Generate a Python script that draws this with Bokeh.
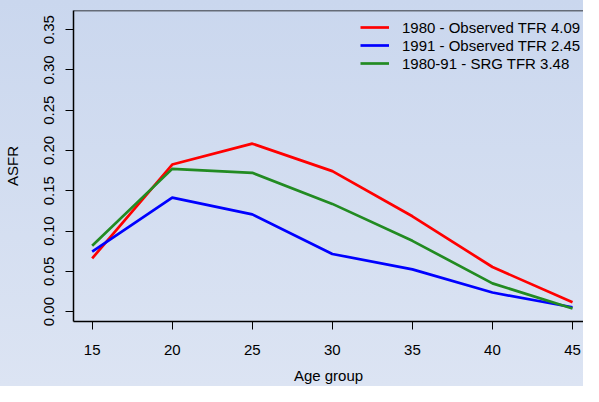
from bokeh.plotting import figure
from bokeh.models import (Range1d, FixedTicker, NumeralTickFormatter, Span,
                          Legend, LegendItem)
from bokeh.embed import file_html
from bokeh.resources import INLINE

age = [15, 20, 25, 30, 35, 40, 45]
asfr_1980 = [0.066, 0.1826, 0.2085, 0.1744, 0.1183, 0.0553, 0.0114]
asfr_1991 = [0.0744, 0.1415, 0.1207, 0.0715, 0.0524, 0.0236, 0.0053]
asfr_srg = [0.0817, 0.1772, 0.1723, 0.1337, 0.0878, 0.0350, 0.0037]
labels = ["1980 - Observed TFR 4.09", "1991 - Observed TFR 2.45",
          "1980-91 - SRG TFR 3.48"]
colors = ["#FF0000", "#0000FF", "#228B22"]
x_ticks = [15, 20, 25, 30, 35, 40, 45]
y_ticks = [0.0, 0.05, 0.10, 0.15, 0.20, 0.25, 0.30, 0.35]

FONT = "Liberation Sans"
FS = "15px"
Y_END = 0.37390

p = figure(width=583, height=386, output_backend="svg", toolbar_location=None,
           x_range=Range1d(13.834, 45.686), y_range=Range1d(-0.01238, Y_END),
           min_border_left=72, min_border_right=0, min_border_top=10,
           min_border_bottom=64)
p.styles = {"background-image": "linear-gradient(#cad7ee, #dce4f3)"}
p.background_fill_color = None
p.border_fill_color = None
p.outline_line_color = None
p.grid.visible = False

renderers = []
for ys, c in zip([asfr_1980, asfr_1991, asfr_srg], colors):
    r = p.line(age, ys, line_color=c, line_width=2.7, line_join="round")
    renderers.append(r)

top = Span(location=Y_END, dimension="width", line_color="black", line_width=1.5)
p.add_layout(top)

for ax in (p.xaxis[0], p.yaxis[0]):
    ax.axis_line_width = 1.5
    ax.axis_line_color = "black"
    ax.major_tick_line_color = "black"
    ax.major_tick_line_width = 1
    ax.major_tick_in = 0
    ax.major_tick_out = 8
    ax.minor_tick_line_color = None
    ax.major_label_text_font = FONT
    ax.major_label_text_font_size = FS
    ax.major_label_text_color = "black"
    ax.axis_label_text_font = FONT
    ax.axis_label_text_font_size = FS
    ax.axis_label_text_font_style = "normal"
    ax.axis_label_text_color = "black"

p.xaxis.ticker = FixedTicker(ticks=x_ticks)
p.xaxis.axis_label = "Age group"
p.xaxis.major_label_standoff = 15
p.xaxis.axis_label_standoff = 9

p.yaxis.ticker = FixedTicker(ticks=y_ticks)
p.yaxis.formatter = NumeralTickFormatter(format="0.00")
p.yaxis.major_label_orientation = "vertical"
p.yaxis.axis_label = "ASFR"
p.yaxis.major_label_standoff = 11
p.yaxis.axis_label_standoff = 21

legend = Legend(items=[LegendItem(label=l, renderers=[r]) for l, r in zip(labels, renderers)],
                location=(287, 249), border_line_color=None, background_fill_color=None,
                padding=0, margin=0, spacing=0, glyph_width=29, glyph_height=18,
                label_height=18, label_standoff=13, label_text_font=FONT,
                label_text_font_size=FS, label_text_color="black")
p.add_layout(legend)

open("out.html", "w").write(file_html(p, INLINE))
